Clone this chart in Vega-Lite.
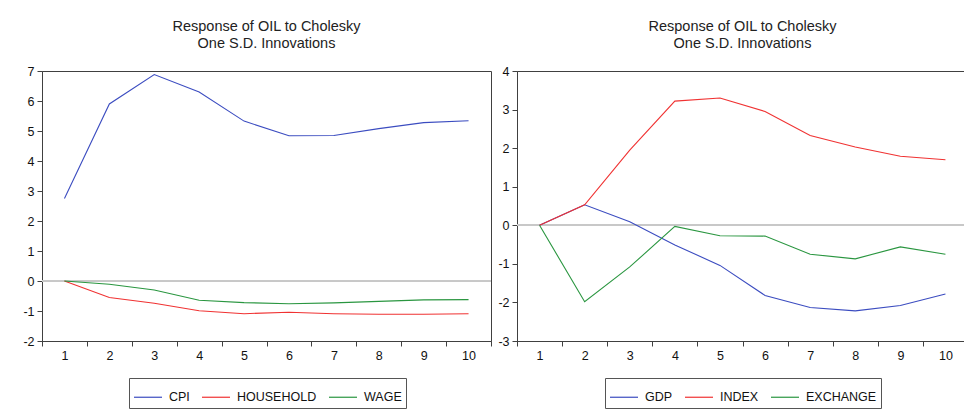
{
  "$schema": "https://vega.github.io/schema/vega-lite/v6.json",
  "background": "white",
  "padding": {"left": 5, "top": 18, "right": 0, "bottom": 0},
  "datasets": {
    "irf": [
      {"panel": "L", "t": 1, "series": "CPI", "value": 2.75},
      {"panel": "L", "t": 2, "series": "CPI", "value": 5.9},
      {"panel": "L", "t": 3, "series": "CPI", "value": 6.88},
      {"panel": "L", "t": 4, "series": "CPI", "value": 6.3},
      {"panel": "L", "t": 5, "series": "CPI", "value": 5.33},
      {"panel": "L", "t": 6, "series": "CPI", "value": 4.84},
      {"panel": "L", "t": 7, "series": "CPI", "value": 4.85},
      {"panel": "L", "t": 8, "series": "CPI", "value": 5.08},
      {"panel": "L", "t": 9, "series": "CPI", "value": 5.28},
      {"panel": "L", "t": 10, "series": "CPI", "value": 5.34},
      {"panel": "L", "t": 1, "series": "HOUSEHOLD", "value": 0},
      {"panel": "L", "t": 2, "series": "HOUSEHOLD", "value": -0.55},
      {"panel": "L", "t": 3, "series": "HOUSEHOLD", "value": -0.74},
      {"panel": "L", "t": 4, "series": "HOUSEHOLD", "value": -0.99},
      {"panel": "L", "t": 5, "series": "HOUSEHOLD", "value": -1.09},
      {"panel": "L", "t": 6, "series": "HOUSEHOLD", "value": -1.04},
      {"panel": "L", "t": 7, "series": "HOUSEHOLD", "value": -1.09},
      {"panel": "L", "t": 8, "series": "HOUSEHOLD", "value": -1.11},
      {"panel": "L", "t": 9, "series": "HOUSEHOLD", "value": -1.11},
      {"panel": "L", "t": 10, "series": "HOUSEHOLD", "value": -1.09},
      {"panel": "L", "t": 1, "series": "WAGE", "value": 0},
      {"panel": "L", "t": 2, "series": "WAGE", "value": -0.11},
      {"panel": "L", "t": 3, "series": "WAGE", "value": -0.3},
      {"panel": "L", "t": 4, "series": "WAGE", "value": -0.64},
      {"panel": "L", "t": 5, "series": "WAGE", "value": -0.72},
      {"panel": "L", "t": 6, "series": "WAGE", "value": -0.76},
      {"panel": "L", "t": 7, "series": "WAGE", "value": -0.73},
      {"panel": "L", "t": 8, "series": "WAGE", "value": -0.68},
      {"panel": "L", "t": 9, "series": "WAGE", "value": -0.63},
      {"panel": "L", "t": 10, "series": "WAGE", "value": -0.62},
      {"panel": "R", "t": 1, "series": "GDP", "value": 0},
      {"panel": "R", "t": 2, "series": "GDP", "value": 0.53},
      {"panel": "R", "t": 3, "series": "GDP", "value": 0.09},
      {"panel": "R", "t": 4, "series": "GDP", "value": -0.51},
      {"panel": "R", "t": 5, "series": "GDP", "value": -1.04},
      {"panel": "R", "t": 6, "series": "GDP", "value": -1.82},
      {"panel": "R", "t": 7, "series": "GDP", "value": -2.13},
      {"panel": "R", "t": 8, "series": "GDP", "value": -2.22},
      {"panel": "R", "t": 9, "series": "GDP", "value": -2.08},
      {"panel": "R", "t": 10, "series": "GDP", "value": -1.78},
      {"panel": "R", "t": 1, "series": "INDEX", "value": 0},
      {"panel": "R", "t": 2, "series": "INDEX", "value": 0.53},
      {"panel": "R", "t": 3, "series": "INDEX", "value": 1.95},
      {"panel": "R", "t": 4, "series": "INDEX", "value": 3.22},
      {"panel": "R", "t": 5, "series": "INDEX", "value": 3.3},
      {"panel": "R", "t": 6, "series": "INDEX", "value": 2.95},
      {"panel": "R", "t": 7, "series": "INDEX", "value": 2.33},
      {"panel": "R", "t": 8, "series": "INDEX", "value": 2.03},
      {"panel": "R", "t": 9, "series": "INDEX", "value": 1.79},
      {"panel": "R", "t": 10, "series": "INDEX", "value": 1.7},
      {"panel": "R", "t": 1, "series": "EXCHANGE", "value": 0},
      {"panel": "R", "t": 2, "series": "EXCHANGE", "value": -1.98},
      {"panel": "R", "t": 3, "series": "EXCHANGE", "value": -1.08},
      {"panel": "R", "t": 4, "series": "EXCHANGE", "value": -0.03},
      {"panel": "R", "t": 5, "series": "EXCHANGE", "value": -0.27},
      {"panel": "R", "t": 6, "series": "EXCHANGE", "value": -0.28},
      {"panel": "R", "t": 7, "series": "EXCHANGE", "value": -0.75},
      {"panel": "R", "t": 8, "series": "EXCHANGE", "value": -0.87},
      {"panel": "R", "t": 9, "series": "EXCHANGE", "value": -0.56},
      {"panel": "R", "t": 10, "series": "EXCHANGE", "value": -0.75}
    ]
  },
  "data": {"name": "irf"},
  "spacing": 4,
  "resolve": {"scale": {"color": "independent", "x": "independent", "y": "independent"}, "legend": {"color": "independent"}},
  "hconcat": [
    {
      "width": 449,
      "height": 270,
      "title": {"text": ["Response of OIL to Cholesky", "One S.D. Innovations"], "fontSize": 14.5, "font": "Liberation Sans", "fontWeight": "normal", "color": "#222222", "lineHeight": 17, "offset": 14, "anchor": "middle"},
      "transform": [{"filter": "datum.panel == 'L'"}],
      "layer": [
        {
          "mark": {"type": "rule", "color": "#c8c8c8", "strokeWidth": 1},
          "encoding": {"y": {"datum": 0, "type": "quantitative", "scale": {"domain": [-2, 7], "nice": false, "zero": false}, "axis": {"title": null, "values": [-2, -1, 0, 1, 2, 3, 4, 5, 6, 7], "labelExpr": "'' + datum.value", "labelOverlap": false, "minExtent": 36, "maxExtent": 36}}}
        },
        {
          "mark": {"type": "line", "strokeWidth": 1.1},
          "encoding": {
            "x": {"field": "t", "type": "ordinal", "scale": {"type": "band", "paddingInner": 0, "paddingOuter": 0}, "axis": {"title": null, "labelAngle": 0, "tickBand": "extent"}},
            "y": {"field": "value", "type": "quantitative", "scale": {"domain": [-2, 7], "nice": false, "zero": false}, "axis": {"title": null, "values": [-2, -1, 0, 1, 2, 3, 4, 5, 6, 7], "labelExpr": "'' + datum.value", "labelOverlap": false, "minExtent": 36, "maxExtent": 36}},
            "color": {"field": "series", "type": "nominal", "scale": {"domain": ["CPI", "HOUSEHOLD", "WAGE"], "range": ["#3b4cc0", "#f03232", "#2a9640"]}, "legend": {"orient": "none", "legendX": 87, "legendY": 307, "direction": "horizontal", "title": null}}
          }
        }
      ]
    },
    {
      "width": 451,
      "height": 270,
      "title": {"text": ["Response of OIL to Cholesky", "One S.D. Innovations"], "fontSize": 14.5, "font": "Liberation Sans", "fontWeight": "normal", "color": "#222222", "lineHeight": 17, "offset": 14, "anchor": "middle"},
      "transform": [{"filter": "datum.panel == 'R'"}],
      "layer": [
        {
          "mark": {"type": "rule", "color": "#c8c8c8", "strokeWidth": 1},
          "encoding": {"y": {"datum": 0, "type": "quantitative", "scale": {"domain": [-3, 4], "nice": false, "zero": false}, "axis": {"title": null, "values": [-3, -2, -1, 0, 1, 2, 3, 4], "labelExpr": "'' + datum.value", "labelOverlap": false, "minExtent": 20, "maxExtent": 20}}}
        },
        {
          "mark": {"type": "line", "strokeWidth": 1.1},
          "encoding": {
            "x": {"field": "t", "type": "ordinal", "scale": {"type": "band", "paddingInner": 0, "paddingOuter": 0}, "axis": {"title": null, "labelAngle": 0, "tickBand": "extent"}},
            "y": {"field": "value", "type": "quantitative", "scale": {"domain": [-3, 4], "nice": false, "zero": false}, "axis": {"title": null, "values": [-3, -2, -1, 0, 1, 2, 3, 4], "labelExpr": "'' + datum.value", "labelOverlap": false, "minExtent": 20, "maxExtent": 20}},
            "color": {"field": "series", "type": "nominal", "scale": {"domain": ["GDP", "INDEX", "EXCHANGE"], "range": ["#3b4cc0", "#f03232", "#2a9640"]}, "legend": {"orient": "none", "legendX": 88, "legendY": 307, "direction": "horizontal", "title": null}}
          }
        }
      ]
    }
  ],
  "config": {
    "font": "Liberation Sans",
    "view": {"stroke": "#404040", "strokeWidth": 1},
    "axis": {"domainColor": "#404040", "tickColor": "#404040", "tickSize": 5, "labelPadding": 3, "labelFontSize": 12.5, "labelColor": "#111111", "labelFont": "Liberation Sans", "grid": false, "labelOverlap": false},
    "legend": {"strokeColor": "#555555", "fillColor": "white", "padding": 4, "symbolType": "stroke", "symbolSize": 784, "symbolStrokeWidth": 1.2, "labelFont": "Liberation Sans", "labelFontSize": 12.5, "labelColor": "#111111", "labelOffset": 6, "columnPadding": 9}
  }
}
